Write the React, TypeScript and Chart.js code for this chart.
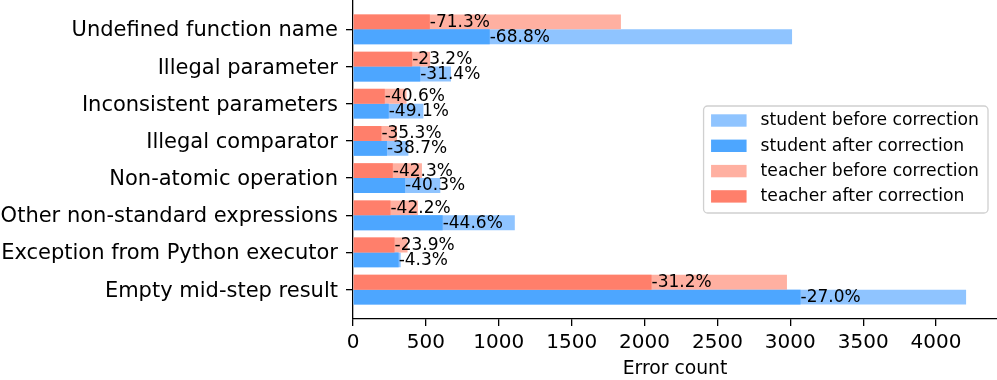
import React, { useEffect, useRef } from "react";
import { Chart, registerables } from "chart.js";

Chart.register(...registerables);

const categories = [
  "Undefined function name",
  "Illegal parameter",
  "Inconsistent parameters",
  "Illegal comparator",
  "Non-atomic operation",
  "Other non-standard expressions",
  "Exception from Python executor",
  "Empty mid-step result",
];

const studentBefore = [3012, 672, 483, 380, 599, 1110, 327, 4206];
const studentAfter = [938, 461, 245, 233, 357, 615, 313, 3070];
const teacherBefore = [1838, 529, 367, 302, 473, 445, 374, 2977];
const teacherAfter = [527, 406, 218, 195, 273, 257, 285, 2048];

const studentPct = [-68.8, -31.4, -49.1, -38.7, -40.3, -44.6, -4.3, -27.0];
const teacherPct = [-71.3, -23.2, -40.6, -35.3, -42.3, -42.2, -23.9, -31.2];

const xTicks = [0, 500, 1000, 1500, 2000, 2500, 3000, 3500, 4000];

const FONT = "'DejaVu Sans', sans-serif";

const C_SB = "#8fc4ff";
const C_SA = "#4da6ff";
const C_TB = "#ffb0a1";
const C_TA = "#ff7f6b";

const toPoints = (arr: number[]) => arr.map((v, i) => ({ x: v, y: i }));

export default function App() {
  const ref = useRef<HTMLCanvasElement | null>(null);

  useEffect(() => {
    document.body.style.margin = "0";
    const canvas = ref.current!;
    const pctLabels: Record<number, number[]> = { 1: teacherPct, 3: studentPct };
    const legendRank: Record<number, number> = { 2: 0, 3: 1, 0: 2, 1: 3 };

    const labelPlugin = {
      id: "pctLabels",
      afterDatasetsDraw(chart: any) {
        const ctx = chart.ctx;
        ctx.save();
        ctx.font = `17px ${FONT}`;
        ctx.fillStyle = "#000";
        ctx.textAlign = "left";
        ctx.textBaseline = "middle";
        [1, 3].forEach((di) => {
          const meta = chart.getDatasetMeta(di);
          meta.data.forEach((el: any, i: number) => {
            ctx.fillText(pctLabels[di][i].toFixed(1) + "%", el.x, el.y + 0.5);
          });
        });
        ctx.restore();
      },
    };

    const legendPlugin = {
      id: "boxLegend",
      afterDraw(chart: any) {
        const ctx = chart.ctx;
        const area = chart.chartArea;
        const items = chart.data.datasets
          .map((d: any, i: number) => ({ label: d.label, color: d.backgroundColor, i }))
          .sort((a: any, b: any) => legendRank[a.i] - legendRank[b.i]);
        ctx.save();
        ctx.font = `17.2px ${FONT}`;
        const tw = Math.max(...items.map((it: any) => ctx.measureText(it.label).width));
        const w = 7.5 + 35.5 + 14 + tw + 9;
        const h = 107;
        const x = area.right - 9 - w;
        const y = (area.top + area.bottom) / 2 - h / 2;
        ctx.beginPath();
        ctx.roundRect(x, y, w, h, 4);
        ctx.fillStyle = "rgba(255,255,255,0.8)";
        ctx.fill();
        ctx.lineWidth = 1.3;
        ctx.strokeStyle = "#d0d0d0";
        ctx.stroke();
        items.forEach((it: any, k: number) => {
          const cy = y + 14.5 + k * 25.3;
          ctx.fillStyle = it.color;
          ctx.fillRect(x + 7.5, cy - 6.2, 35.5, 12.4);
          ctx.fillStyle = "#000";
          ctx.textAlign = "left";
          ctx.textBaseline = "middle";
          ctx.fillText(it.label, x + 7.5 + 35.5 + 14, cy + 0.5);
        });
        ctx.restore();
      },
    };

    const common = {
      borderWidth: 0,
      categoryPercentage: 0.8,
      barPercentage: 1.0,
    };

    const chart = new Chart(canvas, {
      type: "bar",
      data: {
        datasets: [
          { ...common, label: "teacher before correction", data: toPoints(teacherBefore), backgroundColor: C_TB, stack: "teacher", order: 2 },
          { ...common, label: "teacher after correction", data: toPoints(teacherAfter), backgroundColor: C_TA, stack: "teacher", order: 1 },
          { ...common, label: "student before correction", data: toPoints(studentBefore), backgroundColor: C_SB, stack: "student", order: 2 },
          { ...common, label: "student after correction", data: toPoints(studentAfter), backgroundColor: C_SA, stack: "student", order: 1 },
        ] as any,
      },
      plugins: [labelPlugin, legendPlugin],
      options: {
        responsive: false,
        animation: false,
        indexAxis: "y",
        layout: { padding: 0 },
        plugins: {
          legend: { display: false },
          tooltip: { enabled: false },
        },
        scales: {
          y: {
            type: "linear",
            reverse: true,
            offset: false,
            bounds: "data",
            min: -0.79,
            max: 7.79,
            stacked: true,
            afterBuildTicks: (s: any) => {
              s.ticks = categories.map((_, i) => ({ value: i }));
            },
            afterDataLimits: (s: any) => {
              s.min = -0.79;
              s.max = 7.79;
            },
            afterFit: (s: any) => {
              s.width = 353;
              s.paddingTop = 0;
              s.paddingBottom = 0;
            },
            ticks: {
              autoSkip: false,
              color: "#000",
              padding: 8,
              labelOffset: 1.5,
              font: { family: FONT, size: 21 },
              callback: (v: any) => categories[v as number] ?? "",
            },
            grid: {
              display: true,
              offset: false,
              drawOnChartArea: false,
              drawTicks: true,
              tickLength: 7,
              color: "#000",
              lineWidth: 1.3,
            },
            border: { display: true, color: "#000", width: 1.3 },
          },
          x: {
            type: "linear",
            offset: false,
            bounds: "data",
            min: 0,
            max: 4418,
            stacked: false,
            afterBuildTicks: (s: any) => {
              s.ticks = xTicks.map((v) => ({ value: v }));
            },
            afterFit: (s: any) => {
              s.height = 61;
              s.paddingLeft = 0;
              s.paddingRight = 0;
            },
            ticks: {
              autoSkip: false,
              maxRotation: 0,
              color: "#000",
              padding: 5,
              font: { family: FONT, size: 20 },
              callback: (v: any) => String(v),
            },
            grid: {
              display: true,
              offset: false,
              drawOnChartArea: false,
              drawTicks: true,
              tickLength: 7,
              color: "#000",
              lineWidth: 1.3,
            },
            border: { display: true, color: "#000", width: 1.3 },
            title: {
              display: true,
              text: "Error count",
              color: "#000",
              font: { family: FONT, size: 18.8 },
              padding: { top: 2, bottom: 0 },
            },
          },
        },
      } as any,
    });
    return () => chart.destroy();
  }, []);

  return (
    <div style={{ position: "absolute", left: 0, top: 0, width: 997, height: 380 }}>
      <canvas ref={ref} width={997} height={380} style={{ display: "block" }} />
    </div>
  );
}
